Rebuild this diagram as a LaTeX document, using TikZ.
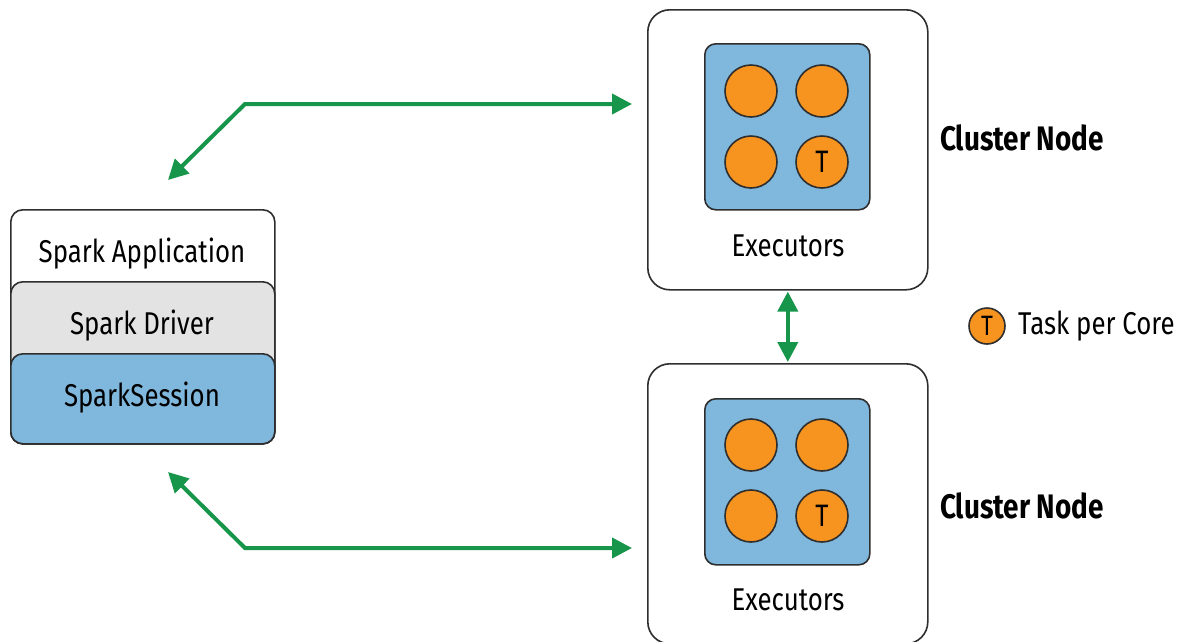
\documentclass[tikz,border=0pt]{standalone}
\usepackage{fontspec}
\setmainfont{Fira Sans}[FakeStretch=0.82]
\usetikzlibrary{arrows.meta}
\definecolor{sblue}{HTML}{80B7DD}
\definecolor{sgray}{HTML}{E3E3E3}
\definecolor{sorange}{HTML}{F7931F}
\definecolor{sgreen}{HTML}{17954A}
\definecolor{sline}{HTML}{2E2E2E}
\tikzset{
  panel/.style={draw=sline, line width=1.6pt, rounded corners=12pt, anchor=north west, inner sep=0pt},
  core/.style={circle, draw=sline, line width=1.6pt, fill=sorange, minimum size=52pt, inner sep=0pt, font=\fontsize{31}{33}\selectfont},
  txt/.style={font=\fontsize{31.5}{34}\selectfont, inner sep=0pt},
  bold/.style={font=\bfseries\fontsize{34}{36}\selectfont, inner sep=0pt},
  conn/.style={draw=sgreen, line width=4pt, {Triangle[length=20pt,width=20pt]}-{Triangle[length=20pt,width=20pt]}}
}
\begin{document}
\begin{tikzpicture}[x=1pt,y=-1pt]
\useasboundingbox (0,0) rectangle (1182,641);
% left stack
\node[panel, fill=white, minimum width=264pt, minimum height=234pt] (app) at (10,209) {};
\node[panel, fill=sgray, minimum width=264pt, minimum height=162pt] (drv) at (10,281) {};
\node[panel, fill=sblue, minimum width=264pt, minimum height=90pt] (ses) at (10,353) {};
\node[txt] (tapp) at (142,254) {Spark Application};
\node[txt] (tdrv) at (142,326) {Spark Driver};
\node[txt] (tses) at (142,398) {SparkSession};
% top cluster node
\node[panel, fill=white, rounded corners=22pt, minimum width=280pt, minimum height=280pt] (cn1) at (647,9) {};
\node[panel, fill=sblue, rounded corners=11pt, minimum width=165pt, minimum height=166pt] (ex1) at (704,43) {};
\node[core] (c11) at (751,91) {};
\node[core] (c12) at (822,91) {};
\node[core] (c13) at (751,162) {};
\node[core] (c14) at (822,162) {T};
\node[txt] (te1) at (788,246) {Executors};
% bottom cluster node
\node[panel, fill=white, rounded corners=22pt, minimum width=280pt, minimum height=280pt] (cn2) at (647,363) {};
\node[panel, fill=sblue, rounded corners=11pt, minimum width=165pt, minimum height=166pt] (ex2) at (704,398) {};
\node[core] (c21) at (751,445) {};
\node[core] (c22) at (822,445) {};
\node[core] (c23) at (751,516) {};
\node[core] (c24) at (822,516) {T};
\node[txt] (te2) at (788,600) {Executors};
% labels
\node[bold] (l1) at (1022,138) {Cluster Node};
\node[bold] (l2) at (1022,506) {Cluster Node};
\node[core, minimum size=36pt, font=\fontsize{28}{30}\selectfont] (leg) at (987,326) {T};
\node[txt, anchor=west] (legt) at (1018,326) {Task per Core};
% connectors
\coordinate (a1) at (168,180);
\coordinate (b1) at (245,104);
\coordinate (e1) at (632,104);
\coordinate (a2) at (168,472);
\coordinate (b2) at (245,548);
\coordinate (e2) at (632,548);
\draw[conn] (a1) -- (b1) -- (e1);
\draw[conn] (a2) -- (b2) -- (e2);
\path (cn1.south) ++(0,1) coordinate (v1);
\path (cn2.north) ++(0,-1) coordinate (v2);
\draw[conn] (v1) -- (v2);
\end{tikzpicture}
\end{document}
